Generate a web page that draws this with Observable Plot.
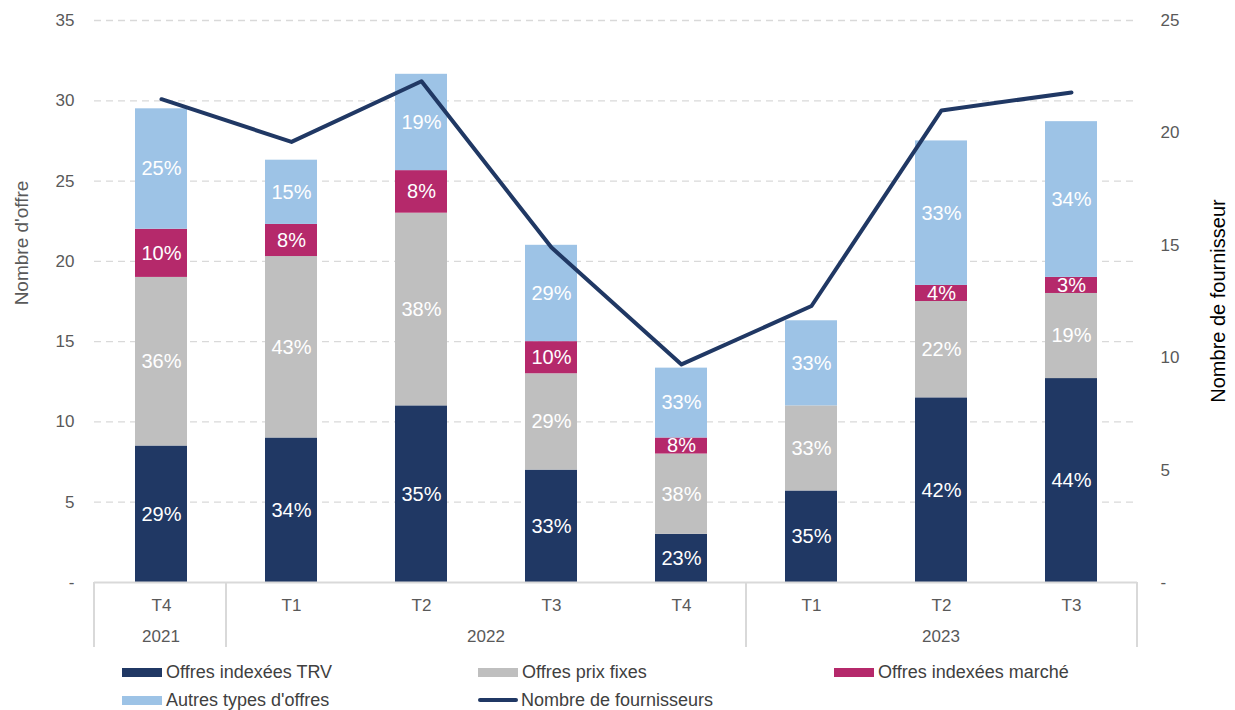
<!DOCTYPE html>
<html>
<head>
<meta charset="utf-8">
<script src="https://cdn.jsdelivr.net/npm/d3@7"></script>
<script src="https://cdn.jsdelivr.net/npm/@observablehq/plot@0.6"></script>
<style>
  body { margin: 0; background: white; font-family: "Liberation Sans", Arial, sans-serif; }
  #legend { display: grid; grid-template-columns: 356px 356px 356px; padding-left: 122px; padding-top: 3px; font-size: 18px; color: #404040; }
  .item { display: flex; align-items: center; height: 28px; white-space: nowrap; }
  .sw { width: 40px; height: 9px; margin-right: 4px; }
  .ln { width: 40px; height: 4px; border-radius: 2px; margin-right: 3px; }
</style>
</head>
<body>
<div id="chart"></div>
<div id="legend"></div>
<script>
const quarters = ["T4", "T1", "T2", "T3", "T4", "T1", "T2", "T3"];
const years = ["2021", "2022", "2022", "2022", "2022", "2023", "2023", "2023"];
const seriesNames = ["Offres indexées TRV", "Offres prix fixes", "Offres indexées marché", "Autres types d'offres"];
const seriesColors = ["#203864", "#bfbfbf", "#b5296b", "#9dc3e6"];
const trv = [8.5, 9, 11, 7, 3, 5.7, 11.5, 12.7];
const fixes = [10.5, 11.3, 12, 6, 5, 5.3, 6, 5.3];
const marche = [3, 2, 2.65, 2, 1, 0, 1, 1];
const autres = [7.5, 4, 6, 6, 4.35, 5.3, 9, 9.7];
const pctTrv = ["29%", "34%", "35%", "33%", "23%", "35%", "42%", "44%"];
const pctFixes = ["36%", "43%", "38%", "29%", "38%", "33%", "22%", "19%"];
const pctMarche = ["10%", "8%", "8%", "10%", "8%", "", "4%", "3%"];
const pctAutres = ["25%", "15%", "19%", "29%", "33%", "33%", "33%", "34%"];
const fournisseurs = [21.5, 19.6, 22.3, 14.9, 9.7, 12.3, 21.0, 21.8];
const lineName = "Nombre de fournisseurs";
const leftTicks = [0, 5, 10, 15, 20, 25, 30, 35];
const rightTicks = [0, 5, 10, 15, 20, 25];
const ratio = 35 / 25;

const keys = quarters.map((q, i) => years[i] + "-" + q + "-" + i);
const seriesValues = [trv, fixes, marche, autres];
const seriesPcts = [pctTrv, pctFixes, pctMarche, pctAutres];
const rows = [];
seriesValues.forEach((arr, s) => arr.forEach((v, i) => rows.push({key: keys[i], series: seriesNames[s], value: v, label: seriesPcts[s][i]})));
const lineData = keys.map((k, i) => ({key: k, n: fournisseurs[i]}));

const chart = Plot.plot({
  width: 1235, height: 655,
  marginTop: 20, marginBottom: 73, marginLeft: 94, marginRight: 98,
  style: {fontFamily: "'Liberation Sans', Arial, sans-serif", fontSize: "17px", color: "#595959", background: "white"},
  x: {type: "band", domain: keys, paddingInner: 0.6, paddingOuter: 0.3},
  y: {domain: [0, 35]},
  color: {domain: seriesNames, range: seriesColors},
  marks: [
    Plot.gridY(leftTicks.filter(d => d > 0), {stroke: "#d9d9d9", strokeOpacity: 1, strokeWidth: 1.3, strokeDasharray: "7,5"}),
    Plot.barY(rows, {x: "key", y: "value", fill: "series"}),
    Plot.ruleY([0], {stroke: "#d9d9d9", strokeWidth: 2}),
    Plot.text(rows.filter(d => d.value > 0), Plot.stackY({x: "key", y: "value", z: "series", text: "label", fill: "white", fontSize: 20})),
    Plot.line(lineData, {x: "key", y: d => d.n * ratio, stroke: "#203864", strokeWidth: 4}),
    Plot.axisY({ticks: leftTicks, tickSize: 0, tickPadding: 20, tickFormat: d => d === 0 ? "-" : d, label: null}),
    Plot.axisY({anchor: "right", ticks: rightTicks.map(v => v * ratio), tickSize: 0, tickPadding: 23,
      tickFormat: d => { const v = Math.round(d / ratio); return v === 0 ? "-" : v; }, label: null}),
    Plot.axisX({tickSize: 0, tickPadding: 16, tickFormat: (k, i) => quarters[keys.indexOf(k)], label: null})
  ]
});
document.getElementById("chart").appendChild(chart);

// two-level category axis: separators and year labels, placed with the plot's own scales
const xs = chart.scale("x");
const ys = chart.scale("y");
const center = k => xs.apply(k) + xs.bandwidth / 2;
const y0 = ys.apply(0);
const svg = d3.select(chart);
const groups = [];
years.forEach((yr, i) => {
  const g = groups[groups.length - 1];
  if (g && g.year === yr) g.last = i; else groups.push({year: yr, first: i, last: i});
});
const bounds = [xs.range[0]];
for (let g = 1; g < groups.length; g++) bounds.push((center(keys[groups[g - 1].last]) + center(keys[groups[g].first])) / 2);
bounds.push(xs.range[1]);
const sep = svg.append("g").attr("stroke", "#d9d9d9").attr("stroke-width", 2);
bounds.forEach(b => sep.append("line").attr("x1", b).attr("x2", b).attr("y1", y0).attr("y2", y0 + 65));
const yl = svg.append("g").attr("fill", "#595959").attr("font-size", 17).attr("text-anchor", "middle");
groups.forEach(g => yl.append("text").attr("x", (center(keys[g.first]) + center(keys[g.last])) / 2).attr("y", y0 + 54).attr("dy", "0.35em").text(g.year));
svg.append("text").attr("transform", "translate(21,243) rotate(-90)").attr("text-anchor", "middle").attr("dy", "0.35em")
  .attr("fill", "#595959").attr("font-size", 19).text("Nombre d'offre");
svg.append("text").attr("transform", "translate(1218,301) rotate(-90)").attr("text-anchor", "middle").attr("dy", "0.35em")
  .attr("fill", "#000").attr("font-size", 20).text("Nombre de fournisseur");

// legend
const legendItems = [
  {name: seriesNames[0], color: seriesColors[0], type: "bar"},
  {name: seriesNames[1], color: seriesColors[1], type: "bar"},
  {name: seriesNames[2], color: seriesColors[2], type: "bar"},
  {name: seriesNames[3], color: seriesColors[3], type: "bar"},
  {name: lineName, color: "#203864", type: "line"}
];
const legend = document.getElementById("legend");
legendItems.forEach(it => {
  const d = document.createElement("div");
  d.className = "item";
  const s = document.createElement("span");
  s.className = it.type === "bar" ? "sw" : "ln";
  s.style.background = it.color;
  d.appendChild(s);
  d.appendChild(document.createTextNode(it.name));
  legend.appendChild(d);
});
</script>
</body>
</html>
